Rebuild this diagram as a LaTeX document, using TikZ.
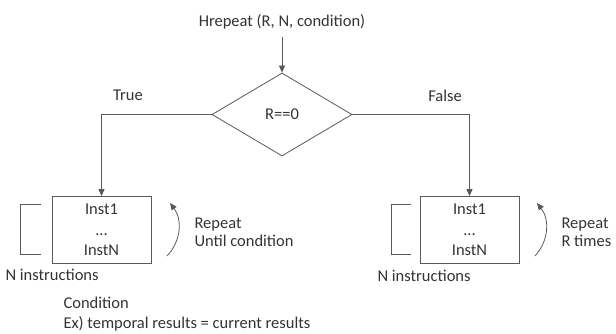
\documentclass[tikz,border=0pt]{standalone}
\usepackage{fontspec}
\setmainfont{Carlito}
\usetikzlibrary{arrows.meta,positioning,shapes.geometric}

\begin{document}
\begin{tikzpicture}[x=1pt,y=-1pt,>={Triangle[length=7pt,width=6pt]},
  every node/.style={text=black!80,font=\fontsize{16.5}{18}\selectfont},
  line/.style={draw=black!65,line width=0.8pt}]
\useasboundingbox (0,0) rectangle (616,334);
\node (title) at (282,22) {Hrepeat (R, N, condition)};
\node[line,diamond,minimum width=140pt,minimum height=83pt,inner sep=0pt] (cond) at (282,114.5) {R==0};
\node[line,minimum width=99pt,minimum height=67pt,align=center,inner sep=0pt,
  font=\fontsize{16.5}{20.5}\selectfont] (boxT) at (101.5,230) {Inst1\\...\\InstN};
\node[line,minimum width=99pt,minimum height=67pt,align=center,inner sep=0pt,
  font=\fontsize{16.5}{20.5}\selectfont] (boxF) at (469.5,230) {Inst1\\...\\InstN};
\node (true) at (128,95) {True};
\node (false) at (445,96) {False};
\node[anchor=west] (ninstT) at (2,275) {N instructions};
\node[anchor=west] (ninstF) at (374,276) {N instructions};
\node[anchor=west,align=left] (repT) at (191,232) {Repeat\\Until condition};
\node[anchor=west,align=left] (repF) at (558,232) {Repeat\\R times};
\node[anchor=west,align=left,font=\fontsize{16.5}{20}\selectfont] (note) at (60,314) {Condition\\Ex) temporal results = current results};
\coordinate (top) at (282,37);
\coordinate (loopTa) at (167,256);
\coordinate (loopTb) at (170,203);
\coordinate (loopFa) at (535,256);
\coordinate (loopFb) at (537,203);
\draw[->,line] (top) -- (cond.north);
\draw[->,line] (cond.west) -| (boxT.north);
\draw[->,line] (cond.east) -| (boxF.north);
\draw[->,line] (loopTa) to[bend right=40] (loopTb);
\draw[->,line] (loopFa) to[bend right=40] (loopFb);
% brackets
\draw[line] (41,204) -- (20,204) -- (20,254) -- (41,254);
\draw[line] (411,204) -- (391,204) -- (391,254) -- (411,254);
\end{tikzpicture}
\end{document}
